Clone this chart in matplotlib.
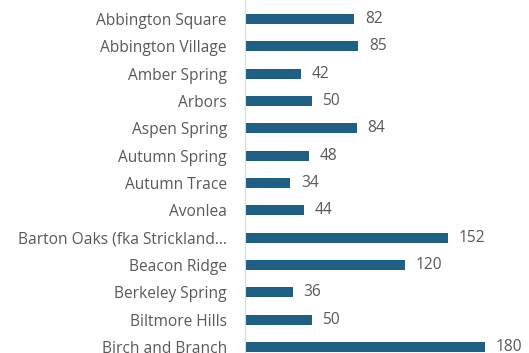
import matplotlib
matplotlib.use("Agg")
import matplotlib.pyplot as plt

categories = ["Abbington Square", "Abbington Village", "Amber Spring", "Arbors",
              "Aspen Spring", "Autumn Spring", "Autumn Trace", "Avonlea",
              "Barton Oaks (fka Strickland…", "Beacon Ridge", "Berkeley Spring",
              "Biltmore Hills", "Birch and Branch"]
values = [82, 85, 42, 50, 84, 48, 34, 44, 152, 120, 36, 50, 180]

bar_color = "#1f5f86"
text_color = "#595959"

fig = plt.figure(figsize=(5.29, 3.53), dpi=100)
ax = fig.add_axes([245/529, 0, 284/529, 1])
y = list(range(len(categories)))
ax.barh(y, values, height=0.37, color=bar_color)
ax.set_xlim(0, 284/1.333)
ax.set_ylim(12.22, -0.695)
for yi, v in zip(y, values):
    ax.text(v + 8, yi, str(v), va="center", ha="left", fontsize=11.2,
            color=text_color, family="Open Sans")
ax.set_yticks(y)
ax.set_yticklabels(categories, fontsize=11.2, color=text_color, family="Open Sans")
ax.tick_params(axis="y", length=0, pad=13)
ax.set_xticks([])
for s in ["top", "right", "bottom"]:
    ax.spines[s].set_visible(False)
ax.spines["left"].set_color("#d9d9d9")
ax.spines["left"].set_linewidth(0.8)
fig.savefig("out.png", dpi=100)
